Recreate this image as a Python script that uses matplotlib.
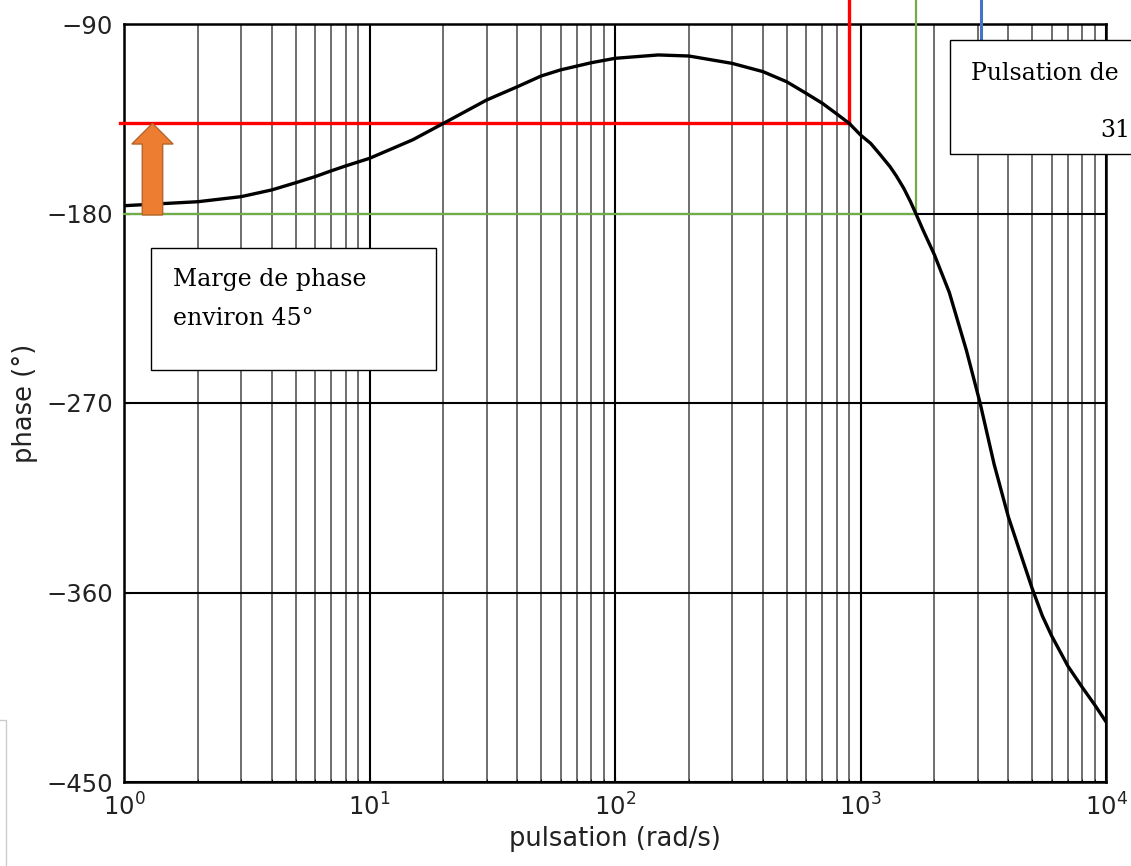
import matplotlib.pyplot as plt
from matplotlib.patches import Rectangle, FancyArrow
from matplotlib.transforms import blended_transform_factory
from matplotlib.ticker import LogLocator, NullFormatter

# phase curve
pulsation = [1, 2, 3, 4, 5, 6, 7, 8, 10, 15, 20, 30, 40, 50, 60, 80, 100, 150, 200,
             300, 400, 500, 600, 700, 800, 900, 1000, 1100, 1200, 1320, 1400, 1500,
             1600, 1680, 1800, 2000, 2300, 2700, 3000, 3070, 3500, 4000, 4500,
             5000, 5500, 6000, 7000, 8000, 9000, 10000]
phase = [-176.3, -174.4, -172.0, -168.8, -165.4, -162.5, -159.7, -157.4, -153.8, -145.0,
         -137.2, -126.1, -119.8, -114.7, -111.8, -108.4, -106.3, -104.7, -105.2,
         -108.7, -112.6, -117.4, -122.9, -127.7, -132.7, -137.2, -142.7, -146.7, -151.9,
         -157.8, -162.2, -168.0, -174.5, -180.0, -188.0, -199.6, -217.5, -245.0,
         -265.5, -270.0, -299.0, -324.0, -342.0, -358.0, -371.0, -380.5, -395.0,
         -405.0, -413.4, -421.4]

w_margin = 900      # where the red lines meet the curve
phi_margin = -137.2
w_pi = 1680         # phase crosses -180
phi_pi = -180
w_cut = 3100        # blue marker
yticks = [-450, -360, -270, -180, -90]

W, H = 1131, 866
fig = plt.figure(figsize=(W / 100, H / 100), dpi=100)


def fx(px):
    return px / W


def fy(py):
    return 1 - py / H


ax = fig.add_axes([fx(124), fy(782), fx(982), 758 / H])
ax.set_xscale('log')
ax.set_xlim(1, 1e4)
ax.set_ylim(-450, -90)
ax.set_yticks(yticks)
ax.set_yticklabels(['\u2212' + str(-v) for v in yticks])
ax.xaxis.set_minor_locator(LogLocator(base=10, subs=range(2, 10)))
ax.xaxis.set_minor_formatter(NullFormatter())

ax.grid(True, which='major', axis='both', color='black', lw=1.5)
ax.grid(True, which='minor', axis='x', color='#555555', lw=1.2)
ax.set_axisbelow(True)
for s in ax.spines.values():
    s.set_linewidth(1.8)
ax.tick_params(which='both', direction='in', labelsize=17.5, colors='black')
ax.tick_params(axis='y', pad=8)
ax.tick_params(axis='x', pad=8)
for lab in ax.get_xticklabels() + ax.get_yticklabels():
    lab.set_color('#222222')

ax.set_xlabel('pulsation (rad/s)', fontsize=18.5, color='#222222', labelpad=4)
ax.set_ylabel('phase (°)', fontsize=18.5, color='#222222', labelpad=6)

# margin construction lines
ax.plot([0.963, w_margin], [phi_margin, phi_margin], color='red', lw=2.4, clip_on=False, zorder=3)
ax.plot([w_margin, w_margin], [phi_margin, -75], color='red', lw=2.4, clip_on=False, zorder=3)
ax.plot([1, w_pi], [phi_pi, phi_pi], color='#70AD47', lw=1.6, clip_on=False, zorder=3)
ax.plot([w_pi, w_pi], [phi_pi, -75], color='#70AD47', lw=1.6, clip_on=False, zorder=3)
ax.plot([w_cut, w_cut], [-97, -75], color='#4472C4', lw=2.2, clip_on=False, zorder=3)

ax.plot(pulsation, phase, color='black', lw=2.4, zorder=4, solid_joinstyle='round')

# orange arrow for the phase margin
tr = blended_transform_factory(ax.transAxes, ax.transData)
arrow = FancyArrow(0.029, -180.7, 0, phi_margin + 180.7, width=0.0208,
                   head_width=0.042, head_length=9.8, length_includes_head=True,
                   transform=tr, facecolor='#ED7D31', edgecolor='#B5652A', lw=1,
                   zorder=5, clip_on=False)
ax.add_patch(arrow)

# text boxes
fig.patches.append(Rectangle((fx(151), fy(370)), fx(436 - 151), 122 / H, transform=fig.transFigure,
                             facecolor='white', edgecolor='black', lw=1, zorder=6))
fig.text(fx(173), fy(286), 'Marge de phase', family='DejaVu Serif', fontsize=17,
         va='baseline', zorder=7)
fig.text(fx(173), fy(325), 'environ 45°', family='DejaVu Serif', fontsize=17,
         va='baseline', zorder=7)

fig.patches.append(Rectangle((fx(950), fy(154)), fx(300), 114 / H, transform=fig.transFigure,
                             facecolor='white', edgecolor='black', lw=1, zorder=6))
fig.text(fx(971), fy(80), 'Pulsation de', family='DejaVu Serif', fontsize=17,
         va='baseline', zorder=7)
fig.text(fx(1100), fy(137), '31', family='DejaVu Serif', fontsize=17,
         va='baseline', zorder=7)

# stray frame at the bottom left of the screenshot
fig.add_artist(plt.Line2D([fx(0), fx(6), fx(6)], [fy(720), fy(720), fy(866)],
                          transform=fig.transFigure, color='#cccccc', lw=1))

fig.savefig('out.png', dpi=100)
